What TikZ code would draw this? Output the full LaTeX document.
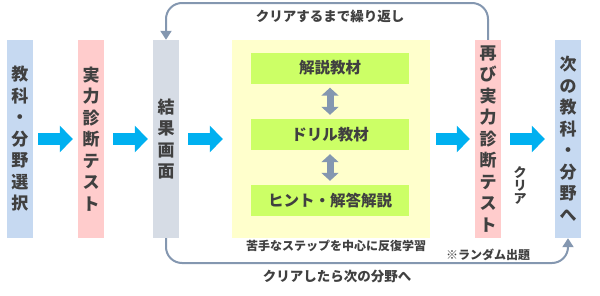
\documentclass[tikz,border=0pt]{standalone}
\usepackage{fontspec}
\setmainfont{Noto Sans CJK JP}
\usepackage{tikz}
\usetikzlibrary{arrows.meta,positioning}
\definecolor{rink}{HTML}{404040}
\definecolor{rblue}{HTML}{C6D9F1}
\definecolor{rpink}{HTML}{FFCCCC}
\definecolor{rgrey}{HTML}{D6DCE5}
\definecolor{ryellow}{HTML}{FFFFCC}
\definecolor{rgreen}{HTML}{CCFF66}
\definecolor{rcyan}{HTML}{00B0F0}
\definecolor{rslate}{HTML}{8497B0}

\begin{document}
\begin{tikzpicture}[x=1pt,y=-1pt,every node/.style={text=rink},
  bar/.style={minimum width=26pt,minimum height=198pt,inner sep=0pt,align=center,font=\bfseries\fontsize{17}{21.5}\selectfont},
  panel/.style={fill=rgreen,minimum width=158pt,minimum height=31pt,inner sep=0pt,font=\bfseries\fontsize{15.5}{18}\selectfont},
  flow/.style={draw=rcyan,line width=12pt,-{Triangle[width=26pt,length=13pt]}},
  swap/.style={draw=rslate,line width=7pt,{Triangle[width=17pt,length=8pt]}-{Triangle[width=17pt,length=8pt]},shorten <=4pt,shorten >=4pt},
  back/.style={draw=rslate,line width=2pt,rounded corners=16pt},
  note/.style={inner sep=0pt,font=\bfseries\fontsize{12}{14}\selectfont}]
  \useasboundingbox (0,0) rectangle (600,295);

  % steps
  \node[bar,fill=rblue] (sel) at (20,139) {教\\科\\・\\分\\野\\選\\択};
  \node[bar,fill=rpink] (diag) at (91,139) {実\\力\\診\\断\\テ\\ス\\ト};
  \node[bar,fill=rgrey] (result) at (166,139) {結\\果\\画\\面};
  \node[fill=ryellow,minimum width=198pt,minimum height=198pt,inner sep=0pt] (study) at (331,139) {};
  \node[bar,fill=rpink] (retest) at (488,139) {再\\び\\実\\力\\診\\断\\テ\\ス\\ト};
  \node[bar,fill=rblue] (next) at (568,139) {次\\の\\教\\科\\・\\分\\野\\へ};

  % materials
  \node[panel] (expl) at (330,68) {解説教材};
  \node[panel] (drill) at (330,134.5) {ドリル教材};
  \node[panel] (hint) at (330,200.5) {ヒント・解答解説};
  \draw[swap] (expl) -- (drill);
  \draw[swap] (drill) -- (hint);

  % main flow
  \draw[flow,shorten <=5pt,shorten >=5pt] (sel) -- (diag);
  \draw[flow,shorten <=9pt,shorten >=5pt] (diag) -- (result);
  \draw[flow,shorten <=9pt,shorten >=9pt] (result) -- (study);
  \draw[flow,shorten <=6pt,shorten >=5pt] (study) -- (retest);
  \draw[flow,shorten <=9pt,shorten >=10pt] (retest) -- (next);
  \node[note,align=center,font=\bfseries\fontsize{13}{13}\selectfont] (clear) at (520,185) {ク\\リ\\ア};

  % loops
  \draw[back,-{Triangle[width=11pt,length=9pt]}] (retest.north) -- (retest.north |- 0,3) -- (result.north |- 0,3) -- (result.north);
  \node[note,font=\bfseries\fontsize{13.5}{15}\selectfont] (again) at (330,16) {クリアするまで繰り返し};
  \draw[back,-{Triangle[width=11pt,length=9pt]}] (result.south) -- (result.south |- 0,263) -- (next.south |- 0,263) -- (next.south);
  \node[note] (weak) at (336,246) {苦手なステップを中心に反復学習};
  \node[note] (random) at (488,255) {※ランダム出題};
  \node[note,font=\bfseries\fontsize{13.5}{15}\selectfont] (pass) at (337,276) {クリアしたら次の分野へ};
\end{tikzpicture}
\end{document}
